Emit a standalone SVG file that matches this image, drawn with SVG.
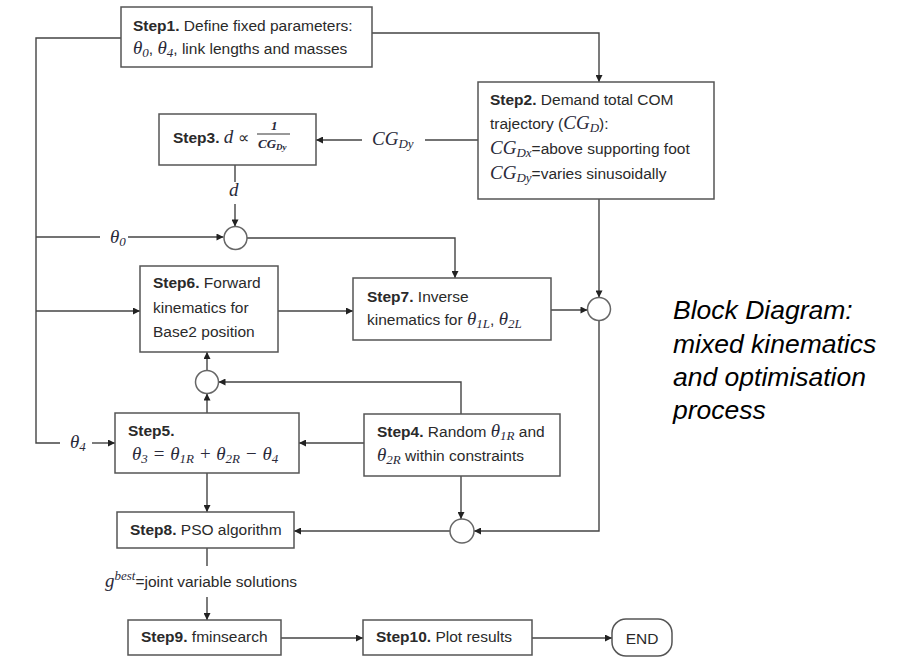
<svg xmlns="http://www.w3.org/2000/svg" width="913" height="657" viewBox="0 0 913 657">
<defs>
<style>
.t{font-family:"Liberation Sans",Arial,sans-serif;font-size:15.5px;fill:#2a2a2a}
.b{font-weight:bold}
.m{font-family:"Liberation Serif","Times New Roman",serif;font-style:italic;font-size:19px;fill:#2a2a3a}
.ms{font-family:"Liberation Serif","Times New Roman",serif;font-style:italic;font-size:13px;fill:#2a2a3a}
.box{fill:#fff;stroke:#555;stroke-width:1.5}
.ln{fill:none;stroke:#444;stroke-width:1.4}
.arr{fill:none;stroke:#444;stroke-width:1.4;marker-end:url(#a)}
.cir{fill:#fff;stroke:#666;stroke-width:1.5}
.cap{font-family:"Liberation Sans",Arial,sans-serif;font-style:italic;font-size:26.5px;fill:#000}
</style>
<marker id="a" viewBox="0 0 10 10" refX="10" refY="5" markerWidth="8" markerHeight="7" markerUnits="userSpaceOnUse" orient="auto"><path d="M0,0 L10,5 L0,10 z" fill="#222"/></marker>
</defs>
<rect width="913" height="657" fill="#fff"/>

<g id="connectors">
<path class="ln" d="M121,38 H36 V443 H60"/>
<path class="arr" d="M92,443 H115"/>
<path class="ln" d="M36,237 H100"/>
<path class="arr" d="M128,237 H223.5"/>
<path class="arr" d="M36,311 H140"/>
<path class="arr" d="M372,33 H599 V82"/>
<path class="ln" d="M478,140 H425"/>
<path class="arr" d="M362,140 H316"/>
<path class="ln" d="M235,165 V182"/>
<path class="arr" d="M235,204 V226.5"/>
<path class="arr" d="M247,238 H455 V278"/>
<path class="arr" d="M278,311 H353"/>
<path class="arr" d="M551,310 H587.5"/>
<path class="arr" d="M599,199 V297.5"/>
<path class="arr" d="M599,320.5 V531 H474"/>
<path class="arr" d="M461,476 V519"/>
<path class="arr" d="M450,531 H294"/>
<path class="arr" d="M461,414 V382 H218.5"/>
<path class="arr" d="M207,413 V393.5"/>
<path class="arr" d="M207,370.5 V352"/>
<path class="arr" d="M364,443 H299"/>
<path class="arr" d="M207,473 V512"/>
<path class="ln" d="M207,548 V566"/>
<path class="arr" d="M207,597 V620"/>
<path class="arr" d="M281,638 H363"/>
<path class="arr" d="M532,638 H612"/>
</g>

<g id="labels">
<text class="m" x="110" y="243">θ<tspan class="ms" dy="3">0</tspan></text>
<text class="m" x="70" y="448">θ<tspan class="ms" dy="3">4</tspan></text>
<text class="m" x="229" y="196">d</text>
<text class="m" x="372" y="145">CG<tspan class="ms" dy="3">Dy</tspan></text>
<text class="t" x="105" y="587"><tspan class="m">g</tspan><tspan class="ms" dy="-7">best</tspan><tspan dy="7">=joint variable solutions</tspan></text>
</g>

<g id="step1">
<rect class="box" x="121" y="7" width="251" height="60"/>
<text class="t" x="133" y="31"><tspan class="b">Step1.</tspan> Define fixed parameters:</text>
<text class="t" x="133" y="54"><tspan class="m">θ</tspan><tspan class="ms" dy="3">0</tspan><tspan dy="-3">, </tspan><tspan class="m">θ</tspan><tspan class="ms" dy="3">4</tspan><tspan dy="-3">, link lengths and masses</tspan></text>
</g>

<g id="step2">
<rect class="box" x="478" y="82" width="236" height="117"/>
<text class="t" x="490" y="105"><tspan class="b">Step2.</tspan> Demand total COM</text>
<text class="t" x="490" y="129">trajectory (<tspan class="m">CG</tspan><tspan class="ms" dy="3">D</tspan><tspan dy="-3">):</tspan></text>
<text class="t" x="490" y="154"><tspan class="m">CG</tspan><tspan class="ms" dy="3">Dx</tspan><tspan dy="-3">=above supporting foot</tspan></text>
<text class="t" x="490" y="179"><tspan class="m">CG</tspan><tspan class="ms" dy="3">Dy</tspan><tspan dy="-3">=varies sinusoidally</tspan></text>
</g>

<g id="step3">
<rect class="box" x="159" y="114" width="157" height="51"/>
<text class="t" x="173" y="143"><tspan class="b">Step3.</tspan> <tspan class="m">d</tspan> ∝</text>
<line x1="257" y1="134" x2="290" y2="134" stroke="#333" stroke-width="1"/>
<text class="ms" x="271" y="130" font-weight="bold">1</text>
<text class="ms" x="258" y="148" font-weight="bold">CG<tspan font-size="9" dy="2">Dy</tspan></text>
</g>

<g id="sum1"><circle class="cir" cx="235.5" cy="238" r="11.5"/></g>
<g id="sum2"><circle class="cir" cx="599" cy="309" r="11.5"/></g>
<g id="sum3"><circle class="cir" cx="462" cy="531" r="12"/></g>
<g id="sum4"><circle class="cir" cx="207" cy="382" r="11.5"/></g>

<g id="step6">
<rect class="box" x="140" y="266" width="138" height="86"/>
<text class="t" x="153" y="288"><tspan class="b">Step6.</tspan> Forward</text>
<text class="t" x="153" y="313">kinematics for</text>
<text class="t" x="153" y="337">Base2 position</text>
</g>

<g id="step7">
<rect class="box" x="353" y="278" width="198" height="62"/>
<text class="t" x="367" y="302"><tspan class="b">Step7.</tspan> Inverse</text>
<text class="t" x="367" y="325">kinematics for <tspan class="m">θ</tspan><tspan class="ms" dy="3">1L</tspan><tspan dy="-3">, </tspan><tspan class="m">θ</tspan><tspan class="ms" dy="3">2L</tspan></text>
</g>

<g id="step5">
<rect class="box" x="115" y="413" width="184" height="60"/>
<text class="t" x="128" y="436"><tspan class="b">Step5.</tspan></text>
<text class="m" x="132" y="460">θ<tspan class="ms" dy="3">3</tspan><tspan dy="-3"> = θ</tspan><tspan class="ms" dy="3">1R</tspan><tspan dy="-3"> + θ</tspan><tspan class="ms" dy="3">2R</tspan><tspan dy="-3"> − θ</tspan><tspan class="ms" dy="3">4</tspan></text>
</g>

<g id="step4">
<rect class="box" x="364" y="414" width="196" height="62"/>
<text class="t" x="377" y="437"><tspan class="b">Step4.</tspan> Random <tspan class="m">θ</tspan><tspan class="ms" dy="3">1R</tspan><tspan dy="-3"> and</tspan></text>
<text class="t" x="377" y="461"><tspan class="m">θ</tspan><tspan class="ms" dy="3">2R</tspan><tspan dy="-3"> within constraints</tspan></text>
</g>

<g id="step8">
<rect class="box" x="117" y="512" width="177" height="36"/>
<text class="t" x="130" y="535"><tspan class="b">Step8.</tspan> PSO algorithm</text>
</g>

<g id="step9">
<rect class="box" x="128" y="620" width="153" height="35"/>
<text class="t" x="141" y="642"><tspan class="b">Step9.</tspan> fminsearch</text>
</g>

<g id="step10">
<rect class="box" x="363" y="620" width="169" height="35"/>
<text class="t" x="376" y="642"><tspan class="b">Step10.</tspan> Plot results</text>
</g>

<g id="end">
<rect class="box" x="612" y="619" width="60" height="37" rx="14" ry="14"/>
<text class="t" x="642" y="644" text-anchor="middle">END</text>
</g>

<g id="caption">
<text class="cap" x="673" y="319">Block Diagram:</text>
<text class="cap" x="673" y="353">mixed kinematics</text>
<text class="cap" x="673" y="386">and optimisation</text>
<text class="cap" x="673" y="419">process</text>
</g>
</svg>
